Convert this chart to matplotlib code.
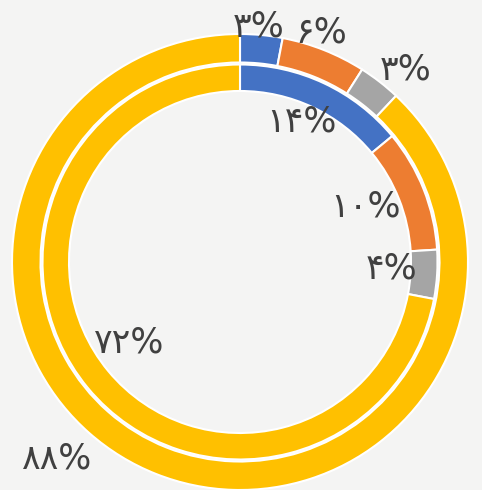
import numpy as np
import matplotlib
matplotlib.use("Agg")
import matplotlib.pyplot as plt

# outer ring (series 2) and inner ring (series 1)
outer_vals = [3, 6, 3, 88]
inner_vals = [14, 10, 4, 72]
outer_labels = ["۳%", "۶%", "۳%", "۸۸%"]
inner_labels = ["۱۴%", "۱۰%", "۴%", "۷۲%"]
colors = ["#4472C4", "#ED7D31", "#A5A5A5", "#FFC000"]

bg = "#F4F4F3"
fig = plt.figure(figsize=(4.82, 4.90), dpi=100, facecolor=bg)
ax = fig.add_axes([0, 0, 1, 1])
ax.set_facecolor(bg)

wp = dict(edgecolor="white", linewidth=1.5)
ax.pie(outer_vals, radius=228, colors=colors, startangle=90, counterclock=False,
       wedgeprops=dict(width=28.5, **wp))
ax.pie(inner_vals, radius=197.5, colors=colors, startangle=90, counterclock=False,
       wedgeprops=dict(width=26.5, **wp))

def mid_angles(vals):
    c = np.cumsum([0] + vals)
    return [90 - 3.6 * (c[i] + c[i + 1]) / 2 for i in range(len(vals))]

# label placement (radius, angle tweak) roughly like Excel did it
outer_pos = [(236, 0.8), (243, 2.1), (254, -2.9), (269, -21.6)]
inner_pos = [(153, 1.7), (137, 2.1), (152, 1.0), (138, -3.7)]

for vals, labels, pos in [(outer_vals, outer_labels, outer_pos),
                          (inner_vals, inner_labels, inner_pos)]:
    for a, lab, (r, da) in zip(mid_angles(vals), labels, pos):
        t = np.radians(a + da)
        ax.text(r * np.cos(t), r * np.sin(t), lab, fontsize=25, color="#404040",
                ha="center", va="center", family=["DejaVu Sans"])

ax.set_xlim(-240, 242)
ax.set_ylim(-228, 262)
ax.set_aspect("equal")
ax.axis("off")

fig.savefig("out.png", dpi=100, facecolor=bg)
